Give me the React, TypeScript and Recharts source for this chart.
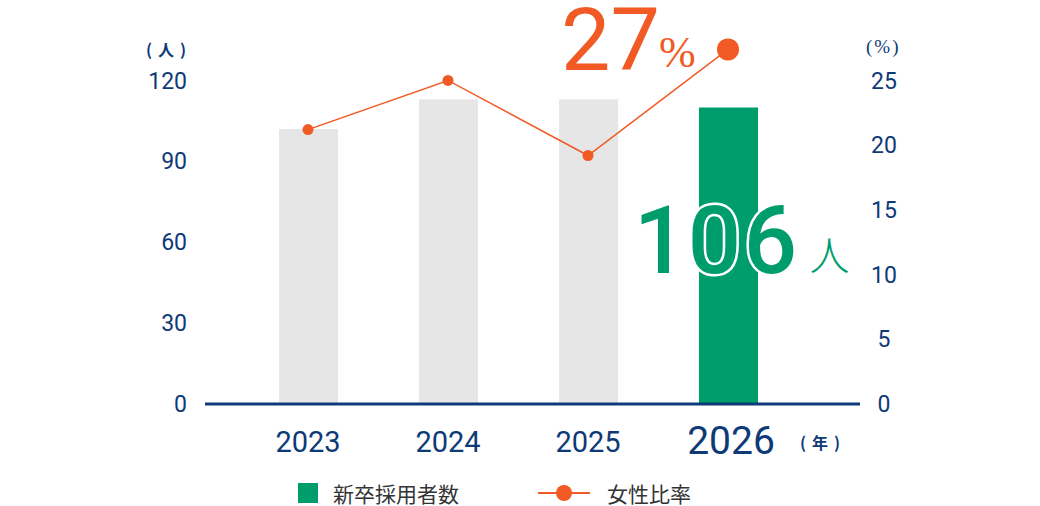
import React from "react";
import {
  ComposedChart,
  Bar,
  Line,
  Cell,
  XAxis,
  YAxis,
  LabelList,
} from "recharts";

const YEARS = ["2023", "2024", "2025", "2026"];
const HIRES = [102, 113, 113, 110];
const FEMALE_RATIO = [21.2, 25, 19.2, 27.4];
const LEFT_TICKS = [0, 30, 60, 90, 120];
const RIGHT_TICKS = [0, 5, 10, 15, 20, 25];
const HIRES_LABEL = "106";
const RATIO_LABEL = "27";
const HIGHLIGHT = 3;

const NAVY = "#0e3a78";
const ORANGE = "#f15a24";
const GREEN = "#009d6c";
const GRAY = "#e6e6e6";
const NUM_FONT = "Roboto, sans-serif";
const JP_FONT = "'Noto Sans CJK JP', sans-serif";

const data = YEARS.map((year, i) => ({
  year,
  hires: HIRES[i],
  ratio: FEMALE_RATIO[i],
}));

function YearTick(props: any) {
  const { x, y, payload, index } = props;
  const big = index === HIGHLIGHT;
  return (
    <text
      x={x + (big ? 3 : 0)}
      y={y + (big ? 50 : 48)}
      textAnchor="middle"
      fill={NAVY}
      fontFamily={NUM_FONT}
      fontSize={big ? 39 : 29}
      fontWeight={400}
    >
      {payload.value}
    </text>
  );
}

function RightTick(props: any) {
  const { x, y, payload } = props;
  return (
    <text
      x={x + 24}
      y={y}
      dy="0.355em"
      textAnchor="middle"
      fill={NAVY}
      fontFamily={NUM_FONT}
      fontSize={23}
      fontWeight={400}
    >
      {payload.value}
    </text>
  );
}

function RatioDot(props: any) {
  const { cx, cy, index } = props;
  return (
    <circle
      key={`dot-${index}`}
      cx={cx}
      cy={cy}
      r={index === HIGHLIGHT ? 11 : 5.5}
      fill={ORANGE}
    />
  );
}

function RatioLabel(props: any) {
  const { x, y, index } = props;
  if (index !== HIGHLIGHT) return null;
  return (
    <g>
      <text
        x={x - 68}
        y={y + 21}
        textAnchor="end"
        fill={ORANGE}
        fontFamily={NUM_FONT}
        fontSize={88}
        fontWeight={400}
      >
        {RATIO_LABEL}
      </text>
      <text
        x={x - 69}
        y={y + 18}
        fill={ORANGE}
        fontFamily="'Liberation Serif', serif"
        fontSize={44}
      >
        %
      </text>
    </g>
  );
}

function HiresLabel(props: any) {
  const { x, y, width, index } = props;
  if (index !== HIGHLIGHT) return null;
  const cx = x + width / 2;
  const offsets = [-68, -14, 42];
  return (
    <g>
      {HIRES_LABEL.split("").map((ch, i) => (
        <text
          key={i}
          x={cx + offsets[i]}
          y={y + 166}
          textAnchor="middle"
          fill={GREEN}
          stroke="#fff"
          strokeWidth={5}
          paintOrder="stroke"
          fontFamily={NUM_FONT}
          fontSize={94}
          fontWeight={500}
        >
          {ch}
        </text>
      ))}
      <text
        x={cx + 81}
        y={y + 163}
        fill={GREEN}
        fontFamily={JP_FONT}
        fontSize={40}
        fontWeight={300}
      >
        人
      </text>
    </g>
  );
}

export default function App() {
  return (
    <div style={{ position: "absolute", left: 0, top: 0, width: 1040, height: 506, overflow: "hidden" }}>
      <ComposedChart
        width={1040}
        height={506}
        data={data}
        margin={{ top: 40, right: 120, bottom: 52, left: 145 }}
      >
        <XAxis
          dataKey="year"
          padding={{ left: 33, right: 62 }}
          axisLine={{ stroke: NAVY, strokeWidth: 3 }}
          tickLine={false}
          tickSize={0}
          tickMargin={0}
          interval={0}
          height={50}
          tick={<YearTick />}
        />
        <YAxis
          yAxisId="left"
          domain={[0, 135]}
          ticks={LEFT_TICKS}
          width={60}
          axisLine={false}
          tickLine={false}
          tickSize={0}
          tickMargin={18}
          tick={{ fill: NAVY, fontSize: 23, fontFamily: NUM_FONT, fontWeight: 400 }}
        />
        <YAxis
          yAxisId="right"
          orientation="right"
          domain={[0, 28.125]}
          ticks={RIGHT_TICKS}
          width={60}
          axisLine={false}
          tickLine={false}
          tickSize={0}
          tickMargin={0}
          tick={<RightTick />}
        />
        <Bar yAxisId="left" dataKey="hires" barSize={59} isAnimationActive={false}>
          {data.map((_, i) => (
            <Cell key={i} fill={i === HIGHLIGHT ? GREEN : GRAY} />
          ))}
          <LabelList dataKey="hires" content={<HiresLabel />} />
        </Bar>
        <Line
          yAxisId="right"
          type="linear"
          dataKey="ratio"
          stroke={ORANGE}
          strokeWidth={1.5}
          dot={<RatioDot />}
          activeDot={false}
          isAnimationActive={false}
        >
          <LabelList dataKey="ratio" content={<RatioLabel />} />
        </Line>
      </ComposedChart>

      <div
        style={{
          position: "absolute",
          left: 146,
          top: 37,
          fontFamily: JP_FONT,
          fontSize: 16,
          fontWeight: 700,
          letterSpacing: 6,
          color: NAVY,
        }}
      >
        (人)
      </div>
      <div
        style={{
          position: "absolute",
          left: 866,
          top: 36,
          fontFamily: "'Liberation Serif', serif",
          fontSize: 19,
          letterSpacing: 2,
          color: NAVY,
        }}
      >
        (%)
      </div>
      <div
        style={{
          position: "absolute",
          left: 800,
          top: 430,
          fontFamily: JP_FONT,
          fontSize: 16,
          fontWeight: 700,
          letterSpacing: 6,
          color: NAVY,
        }}
      >
        (年)
      </div>

      <div
        style={{
          position: "absolute",
          left: 298,
          top: 483,
          height: 20,
          display: "flex",
          alignItems: "center",
          fontFamily: JP_FONT,
          fontSize: 21,
          lineHeight: "20px",
          color: "#333",
        }}
      >
        <span style={{ width: 20, height: 20, background: GREEN, display: "inline-block" }} />
        <span style={{ marginLeft: 15 }}>新卒採用者数</span>
        <svg width={52} height={20} style={{ marginLeft: 79 }}>
          <line x1={0} y1={10} x2={52} y2={10} stroke={ORANGE} strokeWidth={2} />
          <circle cx={26} cy={10} r={8} fill={ORANGE} />
        </svg>
        <span style={{ marginLeft: 17 }}>女性比率</span>
      </div>
    </div>
  );
}
